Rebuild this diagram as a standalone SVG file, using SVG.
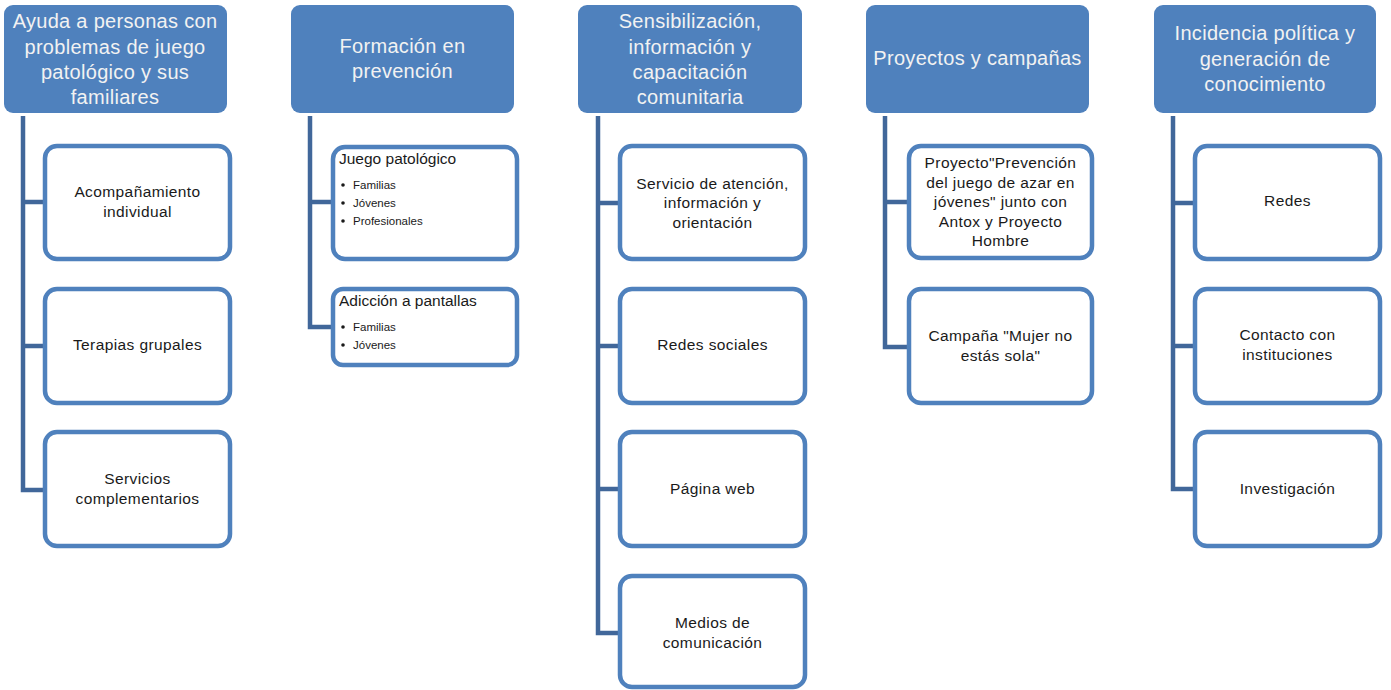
<svg xmlns="http://www.w3.org/2000/svg" width="1391" height="690" viewBox="0 0 1391 690">
<style>
.hdr{fill:#4F81BD;}
.hdr-t{font-family:"Liberation Sans",Arial,sans-serif;font-size:20px;fill:#F2F2F2;text-anchor:middle;letter-spacing:0.3px;}
.box{fill:#FFFFFF;stroke:#4F81BD;stroke-width:4.5;}
.t{font-family:"Liberation Sans",Arial,sans-serif;font-size:15.5px;fill:#1A1A1A;text-anchor:middle;letter-spacing:0.4px;}
.tl{font-family:"Liberation Sans",Arial,sans-serif;font-size:15.5px;fill:#1A1A1A;}
.b{font-family:"Liberation Sans",Arial,sans-serif;font-size:11.5px;fill:#1A1A1A;}
.conn{fill:none;stroke:#41679A;stroke-width:4.5;}
</style>
<rect width="1391" height="690" fill="#FFFFFF"/>
<g id="connectors">
<path class="conn" d="M23,116 V490 H45 M23,202 H45 M23,346 H45"/>
<path class="conn" d="M310,116 V327 H333 M310,202 H333"/>
<path class="conn" d="M598,116 V633 H620 M598,203 H620 M598,346 H620 M598,489 H620"/>
<path class="conn" d="M885,116 V347 H909 M885,202 H909"/>
<path class="conn" d="M1173,116 V489 H1195 M1173,203 H1195 M1173,346 H1195"/>
</g>
<g id="h1"><rect class="hdr" x="4" y="5" width="223" height="108" rx="9"/>
<text class="hdr-t" x="115" y="28">Ayuda a personas con</text>
<text class="hdr-t" x="115" y="54">problemas de juego</text>
<text class="hdr-t" x="115" y="79">patológico y sus</text>
<text class="hdr-t" x="115" y="104">familiares</text></g>
<g id="h2"><rect class="hdr" x="291" y="5" width="223" height="108" rx="9"/>
<text class="hdr-t" x="402.5" y="53">Formación en</text>
<text class="hdr-t" x="402.5" y="78">prevención</text></g>
<g id="h3"><rect class="hdr" x="578" y="5" width="224" height="108" rx="9"/>
<text class="hdr-t" x="690" y="28">Sensibilización,</text>
<text class="hdr-t" x="690" y="54">información y</text>
<text class="hdr-t" x="690" y="79">capacitación</text>
<text class="hdr-t" x="690" y="104">comunitaria</text></g>
<g id="h4"><rect class="hdr" x="866" y="5" width="223" height="108" rx="9"/>
<text class="hdr-t" x="977.5" y="65">Proyectos y campañas</text></g>
<g id="h5"><rect class="hdr" x="1154" y="5" width="222" height="108" rx="9"/>
<text class="hdr-t" x="1265" y="40">Incidencia política y</text>
<text class="hdr-t" x="1265" y="66">generación de</text>
<text class="hdr-t" x="1265" y="91">conocimiento</text></g>

<g id="c1a"><rect class="box" x="45" y="146" width="185" height="113" rx="12"/>
<text class="t" x="137.5" y="197">Acompañamiento</text>
<text class="t" x="137.5" y="217">individual</text></g>
<g id="c1b"><rect class="box" x="45" y="289" width="185" height="114" rx="12"/>
<text class="t" x="137.5" y="350">Terapias grupales</text></g>
<g id="c1c"><rect class="box" x="45" y="432" width="185" height="114" rx="12"/>
<text class="t" x="137.5" y="484">Servicios</text>
<text class="t" x="137.5" y="504">complementarios</text></g>

<g id="c2a"><rect class="box" x="333" y="147" width="184" height="112" rx="12"/>
<text class="tl" x="339" y="164">Juego patológico</text>
<circle cx="343" cy="185" r="1.8" fill="#1A1A1A"/><text class="b" x="353" y="189">Familias</text>
<circle cx="343" cy="203" r="1.8" fill="#1A1A1A"/><text class="b" x="353" y="207">Jóvenes</text>
<circle cx="343" cy="221" r="1.8" fill="#1A1A1A"/><text class="b" x="353" y="225">Profesionales</text></g>
<g id="c2b"><rect class="box" x="333" y="289" width="184" height="76" rx="10"/>
<text class="tl" x="339" y="306">Adicción a pantallas</text>
<circle cx="343" cy="327" r="1.8" fill="#1A1A1A"/><text class="b" x="353" y="331">Familias</text>
<circle cx="343" cy="345" r="1.8" fill="#1A1A1A"/><text class="b" x="353" y="349">Jóvenes</text></g>

<g id="c3a"><rect class="box" x="620" y="146" width="185" height="113" rx="12"/>
<text class="t" x="712.5" y="189">Servicio de atención,</text>
<text class="t" x="712.5" y="208">información y</text>
<text class="t" x="712.5" y="228">orientación</text></g>
<g id="c3b"><rect class="box" x="620" y="289" width="185" height="114" rx="12"/>
<text class="t" x="712.5" y="350">Redes sociales</text></g>
<g id="c3c"><rect class="box" x="620" y="432" width="185" height="114" rx="12"/>
<text class="t" x="712.5" y="494">Página web</text></g>
<g id="c3d"><rect class="box" x="620" y="576" width="185" height="111" rx="12"/>
<text class="t" x="712.5" y="628">Medios de</text>
<text class="t" x="712.5" y="648">comunicación</text></g>

<g id="c4a"><rect class="box" x="909" y="146" width="183" height="112" rx="12"/>
<text class="t" x="1000.5" y="168">Proyecto"Prevención</text>
<text class="t" x="1000.5" y="188">del juego de azar en</text>
<text class="t" x="1000.5" y="207">jóvenes" junto con</text>
<text class="t" x="1000.5" y="227">Antox y Proyecto</text>
<text class="t" x="1000.5" y="246">Hombre</text></g>
<g id="c4b"><rect class="box" x="909" y="289" width="183" height="114" rx="12"/>
<text class="t" x="1000.5" y="341">Campaña "Mujer no</text>
<text class="t" x="1000.5" y="361">estás sola"</text></g>

<g id="c5a"><rect class="box" x="1195" y="146" width="185" height="113" rx="12"/>
<text class="t" x="1287.5" y="206">Redes</text></g>
<g id="c5b"><rect class="box" x="1195" y="289" width="185" height="114" rx="12"/>
<text class="t" x="1287.5" y="340">Contacto con</text>
<text class="t" x="1287.5" y="360">instituciones</text></g>
<g id="c5c"><rect class="box" x="1195" y="432" width="185" height="114" rx="12"/>
<text class="t" x="1287.5" y="494">Investigación</text></g>
</svg>
